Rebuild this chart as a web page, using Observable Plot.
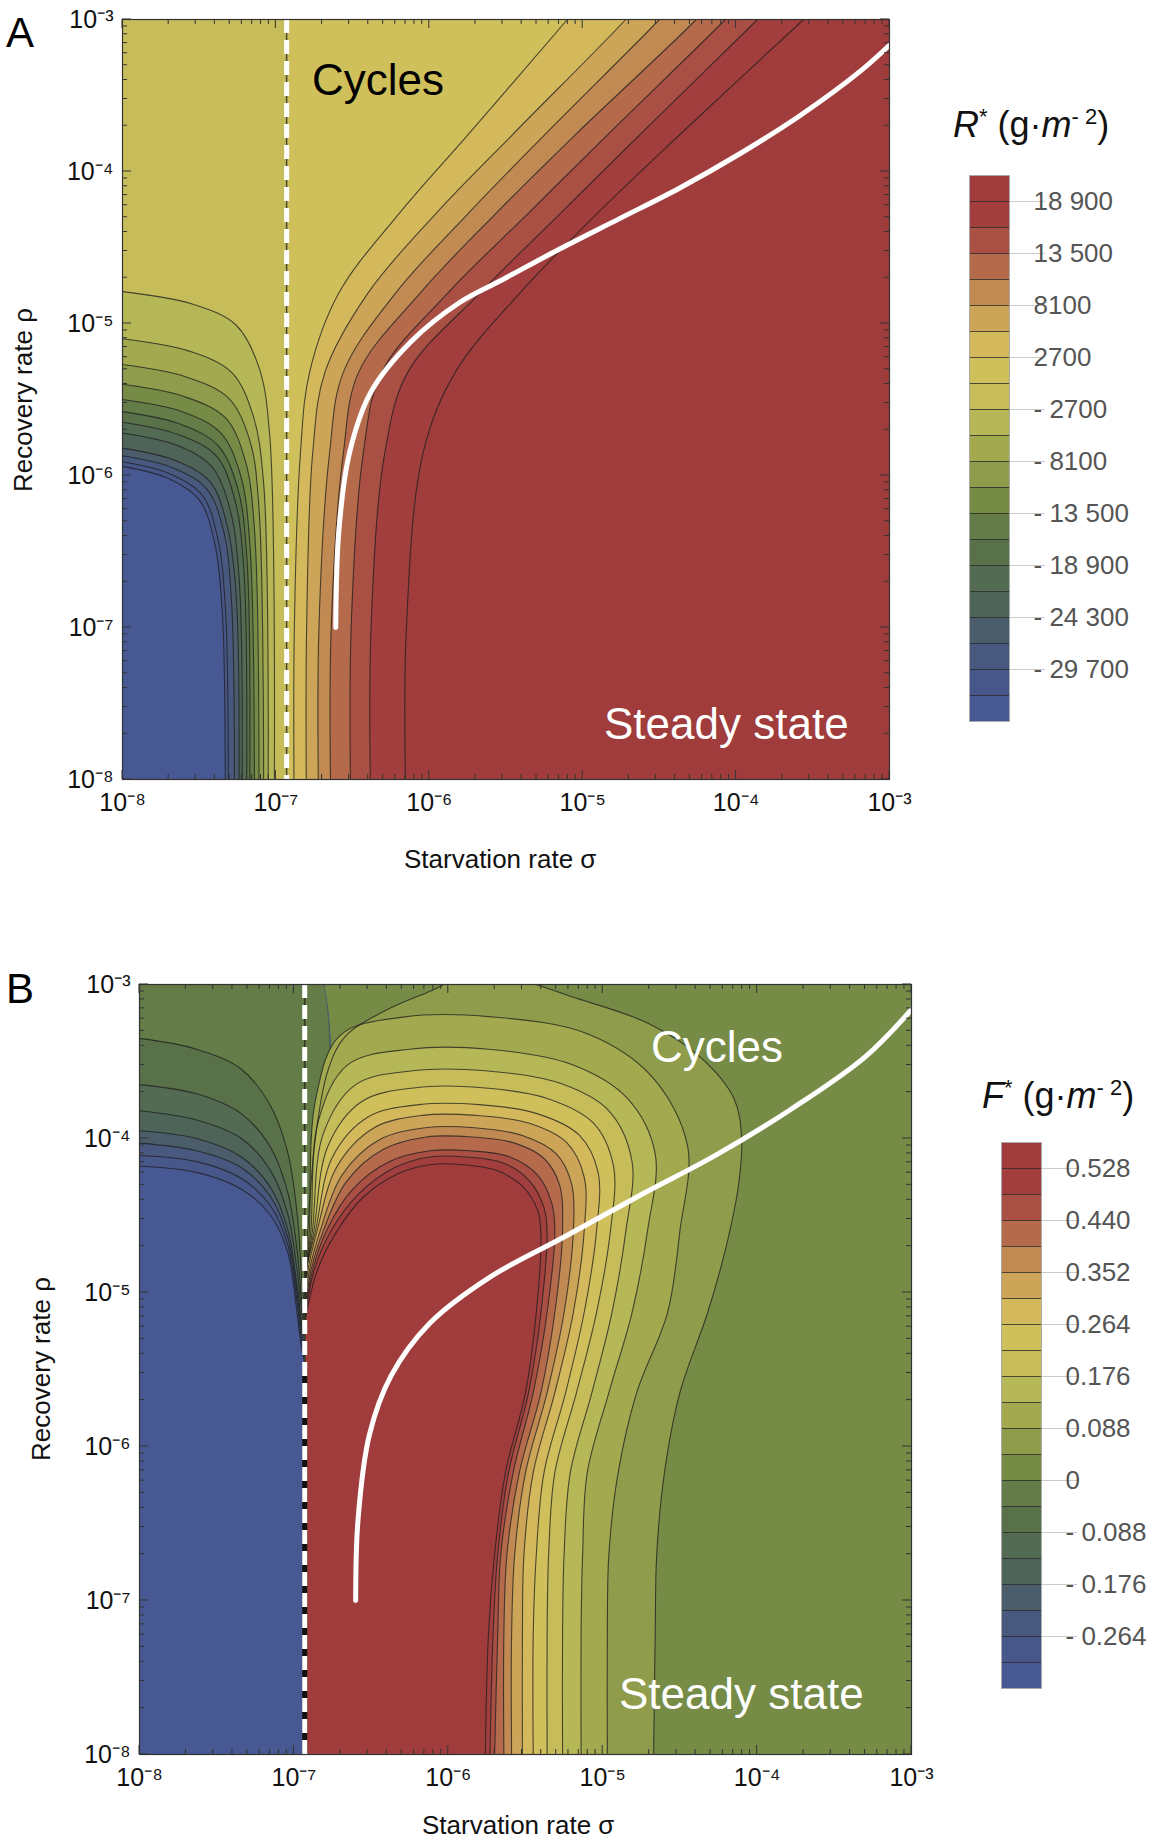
<!DOCTYPE html>
<html>
<head>
<meta charset="utf-8">
<script src="https://cdn.jsdelivr.net/npm/d3@7"></script>
<script src="https://cdn.jsdelivr.net/npm/@observablehq/plot@0.6"></script>
<style>
  body { margin: 0; background: white; font-family: "Liberation Sans", Arial, sans-serif; }
  #page { position: relative; width: 1166px; height: 1841px; overflow: hidden; }
  .abs { position: absolute; white-space: nowrap; line-height: 1; }
  .lab { font-size: 26px; color: #111; }
  .big { font-size: 44px; }
  .panel { font-size: 42px; }
  .ltitle { font-size: 36px; color: #111; }
  .ltitle sup { font-size: 22px; }
</style>
</head>
<body>
<div id="page">
  <div class="abs panel" style="left:6px;top:12px">A</div>
  <div class="abs panel" style="left:6px;top:968px">B</div>
  <div class="abs ltitle" style="left:953px;top:106px"><i>R</i><sup>*</sup> (g·<i>m</i><sup>- 2</sup>)</div>
  <div class="abs ltitle" style="left:982px;top:1077px"><i>F</i><sup>*</sup> (g·<i>m</i><sup>- 2</sup>)</div>
</div>
<script>
// band colours, index 0 = highest level
const bandColors = ["#a03c3c","#a23e3e","#a94f44","#b56a4c","#c08a52","#cca558","#d3b85c","#d0c05c",
  "#c6bd5a","#b6b757","#a2a94f","#8e9c4b","#768c46","#647c47","#597148","#536b52",
  "#4f6459","#4b5d6b","#49587e","#48578a","#475892"]
const labelsR = ["18 900","13 500","8100","2700","- 2700","- 8100","- 13 500","- 18 900","- 24 300","- 29 700"]
const labelsF = ["0.528","0.440","0.352","0.264","0.176","0.088","0","- 0.088","- 0.176","- 0.264"]
const decades = [1e-8, 1e-7, 1e-6, 1e-5, 1e-4, 1e-3]
const sup = {"-": "⁻", "3": "³", "4": "⁴", "5": "⁵", "6": "⁶", "7": "⁷", "8": "⁸"}

// critical starvation rate (dashed line), log10
const sigmaCrit = -6.93

// panel A: L-shaped contours lower left (log10 sigma, log10 rho), outer to inner
const aLeft = [
  [[-8,-4.79],[-7.55,-4.87],[-7.26,-5.01],[-7.11,-5.29],[-7.04,-5.74],[-7.01,-8]],
  [[-8,-5.10],[-7.57,-5.18],[-7.29,-5.32],[-7.15,-5.60],[-7.08,-6.05],[-7.05,-8]],
  [[-8,-5.27],[-7.59,-5.35],[-7.31,-5.49],[-7.17,-5.77],[-7.11,-6.22],[-7.08,-8]],
  [[-8,-5.40],[-7.60,-5.48],[-7.33,-5.62],[-7.20,-5.90],[-7.14,-6.35],[-7.11,-8]],
  [[-8,-5.50],[-7.61,-5.58],[-7.36,-5.72],[-7.23,-6.00],[-7.17,-6.45],[-7.14,-8]],
  [[-8,-5.58],[-7.63,-5.66],[-7.38,-5.80],[-7.25,-6.08],[-7.19,-6.53],[-7.17,-8]],
  [[-8,-5.65],[-7.64,-5.73],[-7.39,-5.87],[-7.27,-6.15],[-7.21,-6.60],[-7.19,-8]],
  [[-8,-5.72],[-7.65,-5.80],[-7.42,-5.94],[-7.30,-6.22],[-7.24,-6.67],[-7.22,-8]],
  [[-8,-5.82],[-7.66,-5.90],[-7.43,-6.04],[-7.32,-6.32],[-7.26,-6.77],[-7.24,-8]],
  [[-8,-5.87],[-7.67,-5.95],[-7.45,-6.09],[-7.34,-6.37],[-7.29,-6.82],[-7.27,-8]],
  [[-8,-5.91],[-7.69,-5.99],[-7.48,-6.13],[-7.38,-6.41],[-7.33,-6.86],[-7.31,-8]],
  [[-8,-5.94],[-7.70,-6.02],[-7.50,-6.16],[-7.40,-6.44],[-7.35,-6.89],[-7.33,-8]]
]
// panel A: contours right of the dashed line, left to right
const aRight = [
  [[-6.88,-8.3],[-6.88,-7.02],[-6.84,-5.85],[-6.78,-5.32],[-6.59,-4.80],[-6.20,-4.28],[-5.75,-3.76],[-5.10,-3.0],[-4.93,-2.8]],
  [[-6.80,-8.3],[-6.80,-7.02],[-6.76,-5.85],[-6.68,-5.32],[-6.40,-4.80],[-5.96,-4.28],[-5.46,-3.76],[-4.72,-3.0],[-4.55,-2.8]],
  [[-6.72,-8.3],[-6.72,-7.02],[-6.65,-5.85],[-6.56,-5.32],[-6.22,-4.80],[-5.75,-4.28],[-5.25,-3.76],[-4.50,-3.0],[-4.32,-2.8]],
  [[-6.64,-8.3],[-6.64,-7.02],[-6.56,-5.85],[-6.46,-5.32],[-6.06,-4.80],[-5.57,-4.28],[-5.05,-3.76],[-4.26,-3.0],[-4.08,-2.8]],
  [[-6.51,-8.3],[-6.51,-7.02],[-6.43,-5.85],[-6.31,-5.32],[-5.88,-4.80],[-5.36,-4.28],[-4.84,-3.76],[-4.07,-3.0],[-3.88,-2.8]],
  [[-6.38,-8.3],[-6.38,-7.02],[-6.29,-5.85],[-6.14,-5.32],[-5.67,-4.80],[-5.15,-4.28],[-4.63,-3.76],[-3.86,-3.0],[-3.66,-2.8]],
  [[-6.15,-8.3],[-6.15,-7.02],[-6.04,-5.85],[-5.83,-5.32],[-5.41,-4.80],[-4.91,-4.28],[-4.37,-3.76],[-3.56,-3.0],[-3.35,-2.8]]
]
const aWhite = [[-6.61,-7.0],[-6.59,-6.37],[-6.52,-5.85],[-6.38,-5.45],[-6.12,-5.12],[-5.80,-4.86],[-5.52,-4.71],
  [-5.15,-4.51],[-4.76,-4.31],[-4.37,-4.11],[-3.97,-3.88],[-3.58,-3.63],[-3.19,-3.34],[-2.98,-3.15]]

// panel B: arcs left of the dashed line, outer to inner
const bLeft = [
  [[-8,-3.35],[-7.63,-3.42],[-7.34,-3.55],[-7.15,-3.79],[-7.04,-4.09],[-6.98,-4.48],[-6.95,-4.90],[-6.93,-5.15]],
  [[-8,-3.65],[-7.63,-3.71],[-7.34,-3.84],[-7.15,-4.06],[-7.04,-4.35],[-6.98,-4.72],[-6.95,-5.05],[-6.93,-5.20]],
  [[-8,-3.82],[-7.63,-3.88],[-7.34,-4.00],[-7.15,-4.21],[-7.04,-4.49],[-6.98,-4.85],[-6.95,-5.12],[-6.93,-5.25]],
  [[-8,-3.95],[-7.63,-4.00],[-7.34,-4.12],[-7.15,-4.32],[-7.04,-4.59],[-6.98,-4.95],[-6.95,-5.20],[-6.93,-5.30]],
  [[-8,-4.03],[-7.63,-4.08],[-7.34,-4.19],[-7.15,-4.38],[-7.04,-4.64],[-6.98,-5.00],[-6.95,-5.25],[-6.93,-5.35]],
  [[-8,-4.11],[-7.63,-4.15],[-7.34,-4.26],[-7.15,-4.44],[-7.04,-4.69],[-6.98,-5.06],[-6.95,-5.31],[-6.93,-5.40]],
  [[-8,-4.18],[-7.63,-4.22],[-7.34,-4.33],[-7.15,-4.50],[-7.04,-4.74],[-6.98,-5.13],[-6.95,-5.36],[-6.93,-5.45]]
]
// panel B: arches right of the dashed line, inner (highest) to outer
const bArch = [
  [[-6.93,-5.20],[-6.85,-4.86],[-6.72,-4.60],[-6.55,-4.38],[-6.33,-4.23],[-6.12,-4.17],[-5.90,-4.17],[-5.68,-4.21],[-5.51,-4.32],[-5.42,-4.47],[-5.40,-4.64],[-5.43,-5.13],[-5.50,-5.65],[-5.63,-6.17],[-5.70,-6.70],[-5.74,-7.22],[-5.76,-8]],
  [[-6.93,-5.18],[-6.87,-4.86],[-6.76,-4.60],[-6.58,-4.36],[-6.35,-4.19],[-6.12,-4.12],[-5.88,-4.12],[-5.64,-4.16],[-5.47,-4.28],[-5.38,-4.45],[-5.36,-4.60],[-5.40,-5.13],[-5.48,-5.65],[-5.61,-6.17],[-5.68,-6.70],[-5.71,-7.22],[-5.73,-8]],
  [[-6.93,-5.16],[-6.88,-4.86],[-6.79,-4.60],[-6.62,-4.33],[-6.38,-4.15],[-6.12,-4.08],[-5.86,-4.08],[-5.60,-4.12],[-5.42,-4.24],[-5.33,-4.42],[-5.31,-4.60],[-5.36,-5.13],[-5.45,-5.65],[-5.58,-6.17],[-5.66,-6.70],[-5.68,-7.22],[-5.70,-8]],
  [[-6.93,-5.14],[-6.89,-4.86],[-6.81,-4.60],[-6.66,-4.28],[-6.42,-4.07],[-6.14,-3.99],[-5.85,-3.99],[-5.57,-4.03],[-5.38,-4.13],[-5.28,-4.30],[-5.26,-4.60],[-5.31,-5.13],[-5.40,-5.65],[-5.54,-6.17],[-5.62,-6.70],[-5.64,-7.22],[-5.64,-8]],
  [[-6.93,-5.12],[-6.90,-4.86],[-6.83,-4.60],[-6.69,-4.24],[-6.45,-4.01],[-6.15,-3.93],[-5.83,-3.93],[-5.52,-3.98],[-5.30,-4.10],[-5.20,-4.30],[-5.19,-4.60],[-5.25,-5.13],[-5.36,-5.65],[-5.50,-6.17],[-5.57,-6.70],[-5.59,-7.22],[-5.59,-8]],
  [[-6.93,-5.10],[-6.91,-4.86],[-6.85,-4.60],[-6.72,-4.18],[-6.48,-3.93],[-6.17,-3.85],[-5.82,-3.85],[-5.48,-3.90],[-5.23,-4.03],[-5.12,-4.25],[-5.12,-4.60],[-5.19,-5.13],[-5.31,-5.65],[-5.45,-6.17],[-5.51,-6.70],[-5.52,-7.22],[-5.52,-8]],
  [[-6.93,-5.08],[-6.92,-4.86],[-6.86,-4.60],[-6.75,-4.12],[-6.52,-3.86],[-6.19,-3.78],[-5.80,-3.78],[-5.42,-3.84],[-5.15,-3.98],[-5.03,-4.22],[-5.04,-4.60],[-5.12,-5.13],[-5.24,-5.65],[-5.38,-6.17],[-5.43,-6.70],[-5.45,-7.22],[-5.45,-8]],
  [[-6.93,-5.06],[-6.92,-4.86],[-6.87,-4.60],[-6.78,-4.05],[-6.56,-3.76],[-6.21,-3.67],[-5.78,-3.67],[-5.36,-3.74],[-5.06,-3.90],[-4.93,-4.18],[-4.95,-4.60],[-5.04,-5.13],[-5.17,-5.65],[-5.31,-6.17],[-5.35,-6.70],[-5.36,-7.22],[-5.36,-8]],
  [[-6.93,-5.04],[-6.92,-4.86],[-6.88,-4.60],[-6.81,-3.97],[-6.60,-3.65],[-6.23,-3.56],[-5.76,-3.56],[-5.28,-3.64],[-4.96,-3.82],[-4.81,-4.15],[-4.85,-4.60],[-4.94,-5.13],[-5.07,-5.65],[-5.21,-6.17],[-5.25,-6.70],[-5.26,-7.22],[-5.26,-8]],
  [[-6.93,-5.02],[-6.92,-4.86],[-6.89,-4.60],[-6.84,-3.88],[-6.65,-3.52],[-6.25,-3.42],[-5.74,-3.42],[-5.20,-3.52],[-4.84,-3.74],[-4.66,-4.10],[-4.71,-4.60],[-4.81,-5.13],[-4.96,-5.65],[-5.10,-6.17],[-5.13,-6.70],[-5.14,-7.22],[-5.14,-8]],
  [[-6.93,-5.00],[-6.92,-4.86],[-6.90,-4.60],[-6.86,-3.75],[-6.70,-3.33],[-6.28,-3.21],[-5.72,-3.21],[-5.10,-3.32],[-4.68,-3.60],[-4.45,-4.05],[-4.50,-4.60],[-4.58,-5.13],[-4.78,-5.65],[-4.90,-6.17],[-4.96,-6.70],[-4.97,-7.22],[-4.97,-8]],
  [[-6.93,-4.98],[-6.91,-4.60],[-6.86,-3.99],[-6.78,-3.56],[-6.67,-3.34],[-6.41,-3.17],[-6.11,-3.04],[-5.90,-2.95],[-5.55,-2.97],[-5.20,-3.08],[-4.71,-3.25],[-4.37,-3.47],[-4.15,-3.74],[-4.10,-4.0],[-4.12,-4.30],[-4.20,-4.70],[-4.32,-5.13],[-4.50,-5.65],[-4.60,-6.17],[-4.65,-6.70],[-4.66,-7.22],[-4.67,-8]]
]
const bWhite = [[-6.60,-7.0],[-6.585,-6.48],[-6.51,-5.92],[-6.37,-5.54],[-6.12,-5.20],[-5.73,-4.90],[-5.25,-4.64],
  [-4.76,-4.37],[-4.27,-4.11],[-3.78,-3.81],[-3.30,-3.47],[-2.98,-3.14]]

const pt = ([lx, ly]) => ({x: 10 ** lx, y: 10 ** ly})
const pts = arr => arr.map(pt)
const fmt = d => "10" + String(Math.round(Math.log10(d))).split("").map(c => sup[c]).join("")
const contour = arr => Plot.line(pts(arr), {x: "x", y: "y", stroke: "#1e1e1e", strokeOpacity: 0.75, strokeWidth: 1.1, curve: "catmull-rom", clip: true})
const patch = (arr, color) => Plot.line(pts(arr), {x: "x", y: "y", fill: color, stroke: "none", curve: "catmull-rom", clip: true})
const box = (x1, x2, color) => Plot.rect([0], {x1: 10 ** x1, x2: 10 ** x2, y1: 1e-8, y2: 1e-3, fill: color})

function panel(marks, m) {
  return Plot.plot({
    width: m.width, height: m.height,
    marginLeft: m.left, marginRight: m.right, marginTop: m.top, marginBottom: m.bottom,
    style: {fontFamily: "Liberation Sans, Arial, sans-serif", fontSize: "25px", color: "#111", background: "transparent"},
    x: {type: "log", domain: [1e-8, 1e-3], ticks: decades, tickFormat: fmt, tickSize: 0, tickPadding: 14, label: null},
    y: {type: "log", domain: [1e-8, 1e-3], ticks: decades, tickFormat: fmt, tickSize: 0, tickPadding: 9, label: null},
    marks: [...marks, Plot.frame({stroke: "#333", strokeWidth: 1.2})]
  })
}

// inward frame ticks drawn from the plot's own scales
function frameTicks(chart, m) {
  const sx = chart.scale("x"), sy = chart.scale("y")
  const g = d3.select(chart).append("g").attr("stroke", "#333").attr("stroke-width", 1)
  const x0 = m.left, x1 = m.width - m.right, y0 = m.top, y1 = m.height - m.bottom
  for (let e = -8; e <= -3; e++) {
    for (let k = 1; k <= 9; k++) {
      const v = k * 10 ** e
      if (v > 1.0001e-3) break
      const len = k === 1 ? 9 : 5
      const px = sx.apply(v), py = sy.apply(v)
      g.append("line").attr("x1", px).attr("x2", px).attr("y1", y1).attr("y2", y1 - len)
      g.append("line").attr("x1", px).attr("x2", px).attr("y1", y0).attr("y2", y0 + len)
      g.append("line").attr("y1", py).attr("y2", py).attr("x1", x0).attr("x2", x0 + len)
      g.append("line").attr("y1", py).attr("y2", py).attr("x1", x1).attr("x2", x1 - len)
    }
  }
}

function legend(labels) {
  const bands = bandColors.map((c, i) => ({i, c}))
  const lines = d3.range(1, 21)
  const labelled = labels.map((t, j) => ({t, y: 1 + 2 * j}))
  return Plot.plot({
    width: 237, height: 590, marginLeft: 40, marginRight: 157, marginTop: 20, marginBottom: 24,
    style: {fontFamily: "Liberation Sans, Arial, sans-serif", background: "transparent"},
    x: {domain: [0, 1], axis: null},
    y: {domain: [21, 0], axis: null},
    marks: [
      Plot.rect(bands, {x1: 0, x2: 1, y1: "i", y2: d => d.i + 1, fill: "c"}),
      Plot.ruleY(lines, {x1: 0, x2: 1, stroke: "#2a2a2a", strokeOpacity: 0.8}),
      Plot.ruleY(labelled, {y: "y", x1: 1, x2: 1.9, stroke: "#ccc"}),
      Plot.text(labelled, {x: 1, y: "y", text: "t", dx: 24, textAnchor: "start", fontSize: 26, fill: "#555"}),
      Plot.frame({stroke: "#aaa"})
    ]
  })
}

const page = d3.select("#page")
function place(node, left, top) {
  page.append(() => node).style("position", "absolute").style("left", left + "px").style("top", top + "px")
}
function text(t, left, top, cls, color, rotate) {
  const d = page.append("div").attr("class", "abs " + cls).style("left", left + "px").style("top", top + "px")
    .style("color", color || "#111").text(t)
  if (rotate) d.style("transform", "translate(-50%,-50%) rotate(-90deg)")
  return d
}

// ---- panel A
const mA = {width: 960, height: 900, left: 122, right: 71, top: 19, bottom: 121}
const marksA = [box(-8, -3, bandColors[20])]
for (let k = aLeft.length - 1; k >= 0; k--) {
  const c = aLeft[k], b = c[c.length - 1][0]
  marksA.push(patch([[-8.3, c[0][1]], ...c, [b, -8.3], [-2.7, -8.3], [-2.7, -2.7], [-8.3, -2.7]], bandColors[8 + k]))
}
marksA.push(box(sigmaCrit, -3, bandColors[7]))
aRight.forEach((c, k) => marksA.push(patch([...c, [-2.7, -2.8], [-2.7, -8.3]], bandColors[6 - k])))
aLeft.forEach(c => marksA.push(contour(c)))
aRight.forEach(c => marksA.push(contour(c)))
marksA.push(
  Plot.ruleX([10 ** sigmaCrit], {stroke: "#4a4a30", strokeWidth: 1.5}),
  Plot.ruleX([10 ** sigmaCrit], {stroke: "white", strokeWidth: 5, strokeDasharray: "14,7"}),
  Plot.line(pts(aWhite), {x: "x", y: "y", stroke: "white", strokeWidth: 5, curve: "catmull-rom", clip: true})
)
const chartA = panel(marksA, mA)
frameTicks(chartA, mA)
place(chartA, 0, 0)
place(legend(labelsR), 929, 155)

// ---- panel B
const mB = {width: 980, height: 900, left: 139, right: 69, top: 44, bottom: 86}
const marksB = [box(-8, sigmaCrit, bandColors[20]), box(sigmaCrit, -3, bandColors[12])]
for (let k = bLeft.length - 1; k >= 0; k--) {
  const c = bLeft[k]
  marksB.push(patch([[-8.3, c[0][1]], ...c, [sigmaCrit, -2.7], [-8.3, -2.7]], bandColors[13 + k]))
}
for (let k = bArch.length - 1; k >= 0; k--) {
  const c = bArch[k], b = c[c.length - 1][0]
  marksB.push(patch([...c, [b, -8.3], [sigmaCrit, -8.3]], bandColors[k]))
}
bLeft.forEach(c => marksB.push(contour(c)))
bArch.forEach(c => marksB.push(contour(c)))
marksB.push(
  Plot.ruleX([10 ** sigmaCrit], {stroke: "#2e3a22", strokeWidth: 1.5}),
  Plot.ruleX([10 ** sigmaCrit], {y1: 1e-8, y2: 10 ** -5.5, stroke: "#111", strokeWidth: 5}),
  Plot.ruleX([10 ** sigmaCrit], {stroke: "white", strokeWidth: 5, strokeDasharray: "14,7"}),
  Plot.line(pts(bWhite), {x: "x", y: "y", stroke: "white", strokeWidth: 5, curve: "catmull-rom", clip: true})
)
const chartB = panel(marksB, mB)
frameTicks(chartB, mB)
place(chartB, 0, 940)
place(legend(labelsF), 961, 1122)

// annotations
text("Cycles", 312, 58, "big", "#000")
text("Steady state", 604, 702, "big", "#fff")
text("Cycles", 651, 1025, "big", "#fff")
text("Steady state", 619, 1672, "big", "#fff")
text("Starvation rate σ", 404, 846, "lab")
text("Starvation rate σ", 422, 1812, "lab")
text("Recovery rate ρ", 23, 400, "lab", null, true)
text("Recovery rate ρ", 41, 1369, "lab", null, true)
</script>
</body>
</html>
